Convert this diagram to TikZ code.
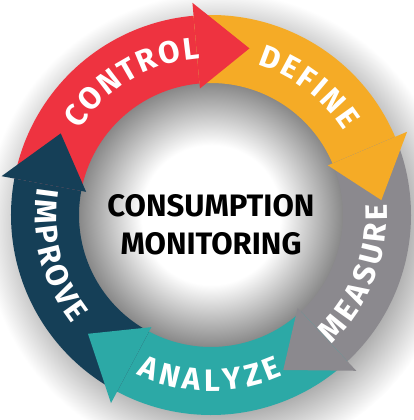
\documentclass[tikz,border=0pt]{standalone}
\usepackage{fontspec}
\setmainfont{Fira Sans}
\usetikzlibrary{decorations.text}

\definecolor{ctrlred}{HTML}{EE3340}
\definecolor{defyellow}{HTML}{F5AB26}
\definecolor{measgray}{HTML}{8B898E}
\definecolor{anateal}{HTML}{2CA9A6}
\definecolor{impnavy}{HTML}{153F57}

\pgfdeclareradialshading{ringshadow}{\pgfpoint{0bp}{0bp}}{color(0bp)=(black!36); color(19bp)=(black!36); color(25bp)=(white); color(50bp)=(white)}
\pgfdeclareradialshading{holeshadow}{\pgfpoint{0bp}{0bp}}{color(0bp)=(white); color(13bp)=(white); color(25bp)=(black!48); color(50bp)=(black!48)}

\def\rout{200}
\def\rin{132}
\newcommand\ringtype{\fontsize{31}{34}\selectfont\bfseries}

\tikzset{
  ringlabel/.style={decorate,
      decoration={text along path, text align={fit to path}, text color=white,
      text={|\ringtype|#1}}}
}

\begin{document}
\begin{tikzpicture}[x=1pt,y=1pt]
    \useasboundingbox (-211,-205) rectangle (203,215);
    % shadows
    \shade[shading=ringshadow] (8,-12) circle[radius=235];
    \shade[shading=holeshadow] (0,0) circle[radius=\rin+2];

    % ring segments
    \fill[ctrlred] (169.5:\rout) arc[start angle=169.5, end angle=95, radius=\rout]
        -- (95:\rin) arc[start angle=95, end angle=169.5, radius=\rin] -- cycle;
    \fill[defyellow] (95:\rout) arc[start angle=95, end angle=23, radius=\rout]
        -- (23:\rin) arc[start angle=23, end angle=95, radius=\rin] -- cycle;
    \fill[measgray] (23:\rout) arc[start angle=23, end angle=-47, radius=\rout]
        -- (-47:\rin) arc[start angle=-47, end angle=23, radius=\rin] -- cycle;
    \fill[anateal] (-47:\rout) arc[start angle=-47, end angle=-118, radius=\rout]
        -- (-118:\rin) arc[start angle=-118, end angle=-47, radius=\rin] -- cycle;
    \fill[impnavy] (-118:\rout) arc[start angle=-118, end angle=-190.5, radius=\rout]
        -- (-190.5:\rin) arc[start angle=-190.5, end angle=-118, radius=\rin] -- cycle;

    % arrow heads
    \fill[ctrlred] (95:213) -- (77:171) -- (95:127) -- cycle;
    \fill[defyellow] (23:213) -- (5:171) -- (23:127) -- cycle;
    \fill[measgray] (-47:213) -- (-65:171) -- (-47:127) -- cycle;
    \fill[anateal] (-118:213) -- (-136:171) -- (-118:127) -- cycle;
    \fill[impnavy] (-190.5:213) -- (-208.5:171) -- (-190.5:127) -- cycle;

    % labels
    \path[ringlabel=CONTROL] (147:157) arc[start angle=147, end angle=94, radius=157];
    \path[ringlabel=DEFINE] (73:157) arc[start angle=73, end angle=32.5, radius=157];
    \path[ringlabel=MEASURE] (-47:176) arc[start angle=-47, end angle=3.5, radius=176];
    \path[ringlabel=ANALYZE] (-115:176) arc[start angle=-115, end angle=-66, radius=176];
    \path[ringlabel=IMPROVE] (171:176) arc[start angle=171, end angle=218, radius=176];

    \node[font=\fontsize{31}{38}\selectfont\bfseries, align=center] (title) at (0,-10) {CONSUMPTION\\MONITORING};
\end{tikzpicture}
\end{document}
